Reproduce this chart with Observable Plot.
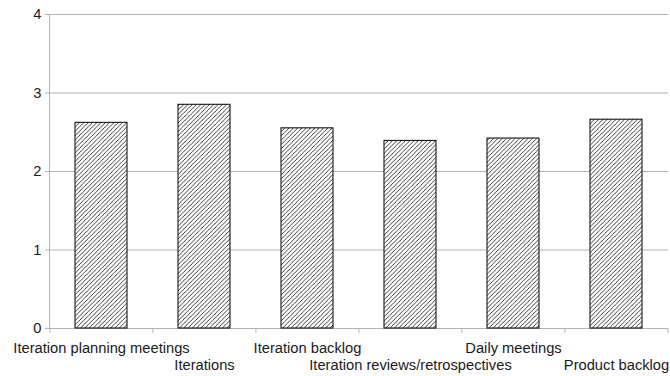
<!DOCTYPE html>
<html>
<head>
<meta charset="utf-8">
<script src="https://cdn.jsdelivr.net/npm/d3@7"></script>
<script src="https://cdn.jsdelivr.net/npm/@observablehq/plot@0.6"></script>
<style>
  html, body { margin: 0; padding: 0; background: #fff; }
  svg { display: block; }
</style>
</head>
<body>
<div id="chart"></div>
<script>
const categories = ["Iteration planning meetings", "Iterations", "Iteration backlog", "Iteration reviews/retrospectives", "Daily meetings", "Product backlog"];
const values = [2.62, 2.85, 2.55, 2.39, 2.42, 2.66];
const yTicks = [0, 1, 2, 3, 4];

const data = categories.map((c, i) => ({cat: c, value: values[i]}));
const rowA = categories.filter((c, i) => i % 2 === 0);
const rowB = categories.filter((c, i) => i % 2 === 1);

const W = 670, H = 376;
const mL = 49, mR = 2;
const step = (W - mL - mR) / categories.length;
const grid = "#b3b3b3";
const fs = 14.7;

const chart = Plot.plot({
  width: W,
  height: H,
  marginLeft: mL,
  marginRight: mR,
  marginTop: 14,
  marginBottom: 48,
  style: {fontFamily: "'Liberation Sans', Arial, sans-serif", fontSize: fs + "px", color: "#000", background: "#fff"},
  x: {domain: categories, paddingInner: 0.5, paddingOuter: 0.25, label: null},
  y: {domain: [0, 4], ticks: yTicks, label: null},
  marks: [
    Plot.gridY(yTicks, {stroke: grid, strokeOpacity: 1}),
    Plot.axisY(yTicks, {tickSize: 4, tickPadding: 4, stroke: grid, fill: "#1a1a1a", fontSize: fs, tickFormat: d => String(d), label: null}),
    Plot.frame({anchor: "left", stroke: grid}),
    Plot.axisX({tickSize: 5, stroke: grid, tickFormat: () => "", dx: -step / 2, label: null}),
    Plot.axisX([categories[categories.length - 1]], {tickSize: 5, stroke: grid, tickFormat: () => "", dx: step / 2, label: null}),
    Plot.axisX(rowA, {tickSize: 0, tickPadding: 14, fill: "#1a1a1a", fontSize: fs, label: null}),
    Plot.axisX(rowB, {tickSize: 0, tickPadding: 31, fill: "#1a1a1a", fontSize: fs, label: null}),
    Plot.barY(data, {x: "cat", y: "value", fill: "url(#hatch)", stroke: "#000", strokeWidth: 1})
  ]
});

const ns = "http://www.w3.org/2000/svg";
const defs = document.createElementNS(ns, "defs");
const pat = document.createElementNS(ns, "pattern");
pat.setAttribute("id", "hatch");
pat.setAttribute("patternUnits", "userSpaceOnUse");
pat.setAttribute("width", "4.3");
pat.setAttribute("height", "4.3");
const bg = document.createElementNS(ns, "rect");
bg.setAttribute("width", "4.3");
bg.setAttribute("height", "4.3");
bg.setAttribute("fill", "#fff");
pat.appendChild(bg);
const p = document.createElementNS(ns, "path");
p.setAttribute("d", "M-1,1.075 L1.075,-1 M0,4.3 L4.3,0 M3.225,5.3 L5.3,3.225");
p.setAttribute("stroke", "#000");
p.setAttribute("stroke-width", "0.75");
pat.appendChild(p);
defs.appendChild(pat);
chart.insertBefore(defs, chart.firstChild);

document.getElementById("chart").appendChild(chart);
</script>
</body>
</html>
